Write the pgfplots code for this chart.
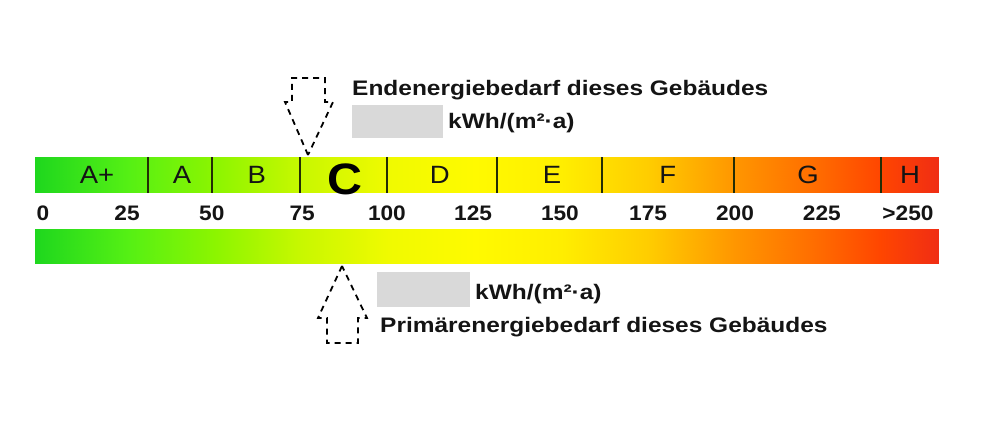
\documentclass[border=0pt]{standalone}
\usepackage{pgfplots}
\pgfplotsset{compat=1.18}
\usepackage{fontspec}
\setmainfont{Liberation Sans}
\usepackage{graphicx}
\definecolor{txt}{RGB}{20,20,20}
\definecolor{boxgray}{RGB}{217,217,217}
\definecolor{divline}{RGB}{35,45,5}
\newcommand{\bigtxt}[1]{\fontsize{21}{21}\selectfont\bfseries\scalebox{1.165}[1]{#1}}
\newcommand{\tk}[1]{\fontsize{21}{21}\selectfont\bfseries\scalebox{1.08}[1]{#1}}
\newcommand{\cl}[1]{\fontsize{25}{25}\selectfont\scalebox{1.1}[1]{#1}}
\begin{document}
\begin{tikzpicture}
\begin{axis}[
  width=1004pt, height=438pt, scale only axis,
  xmin=-12.428, xmax=277.75, ymin=0, ymax=438, y dir=reverse,
  hide axis, clip=false,
  colormap={energy}{rgb255(0)=(30,215,30) rgb255(27)=(85,240,20) rgb255(52)=(140,245,0) rgb255(77)=(200,248,0) rgb255(102)=(240,250,0) rgb255(127)=(255,250,0) rgb255(152)=(255,238,0) rgb255(177)=(255,205,0) rgb255(202)=(255,150,0) rgb255(227)=(255,105,0) rgb255(244)=(255,70,0) rgb255(261)=(240,45,20)},
  point meta min=-2.31, point meta max=258.96,
]
\path (rel axis cs:0,0) rectangle (rel axis cs:1,1);
% top bar (classes)
\addplot[surf, shader=interp, point meta=x, mesh/rows=2, mesh/cols=12] table {
x y
-2.31 157
25 157
50 157
75 157
100 157
125 157
150 157
175 157
200 157
225 157
242 157
258.96 157
-2.31 193
25 193
50 193
75 193
100 193
125 193
150 193
175 193
200 193
225 193
242 193
258.96 193
};
% bottom bar
\addplot[surf, shader=interp, point meta=x, mesh/rows=2, mesh/cols=12] table {
x y
-2.31 229
25 229
50 229
75 229
100 229
125 229
150 229
175 229
200 229
225 229
242 229
258.96 229
-2.31 263
25 263
50 263
75 263
100 263
125 263
150 263
175 263
200 263
225 263
242 263
258.96 263
};
% class dividers
\addplot[divline, line width=1.7pt, unbounded coords=jump] coordinates {
(30.3,157.5) (30.3,192.5) (nan,nan)
(48.8,157.5) (48.8,192.5) (nan,nan)
(74.3,157.5) (74.3,192.5) (nan,nan)
(99.4,157.5) (99.4,192.5) (nan,nan)
(131.2,157.5) (131.2,192.5) (nan,nan)
(161.6,157.5) (161.6,192.5) (nan,nan)
(199.7,157.5) (199.7,192.5) (nan,nan)
(242.2,157.5) (242.2,192.5)
};
% class letters
\node[anchor=base, txt] at (axis cs:15.6,183) {\cl{A+}};
\node[anchor=base, txt] at (axis cs:40.2,183) {\cl{A}};
\node[anchor=base, txt] at (axis cs:61.8,183) {\cl{B}};
\node[anchor=base, black] at (axis cs:87.3,194) {\fontsize{44}{44}\selectfont\bfseries\scalebox{1.1}[1]{C}};
\node[anchor=base, txt] at (axis cs:114.7,183) {\cl{D}};
\node[anchor=base, txt] at (axis cs:147.1,183) {\cl{E}};
\node[anchor=base, txt] at (axis cs:180.6,183) {\cl{F}};
\node[anchor=base, txt] at (axis cs:221.1,183) {\cl{G}};
\node[anchor=base, txt] at (axis cs:250.6,183) {\cl{H}};
% scale numbers
\node[anchor=base, txt] at (axis cs:0,220) {\tk{0}};
\node[anchor=base, txt] at (axis cs:24.3,220) {\tk{25}};
\node[anchor=base, txt] at (axis cs:48.8,220) {\tk{50}};
\node[anchor=base, txt] at (axis cs:74.9,220) {\tk{75}};
\node[anchor=base, txt] at (axis cs:99.4,220) {\tk{100}};
\node[anchor=base, txt] at (axis cs:124.3,220) {\tk{125}};
\node[anchor=base, txt] at (axis cs:149.4,220) {\tk{150}};
\node[anchor=base, txt] at (axis cs:174.9,220) {\tk{175}};
\node[anchor=base, txt] at (axis cs:200,220) {\tk{200}};
\node[anchor=base, txt] at (axis cs:225.1,220) {\tk{225}};
\node[anchor=base, txt] at (axis cs:250,220) {\tk{>250}};
% top arrow (Endenergie)
\addplot[black, line width=1.8pt, dash pattern=on 6pt off 5pt] coordinates {
(76.59,155) (69.94,102) (71.97,102) (71.97,78) (81.5,78) (81.5,102) (83.82,102) (76.59,155)
};
% bottom arrow (Primaerenergie)
\addplot[black, line width=1.8pt, dash pattern=on 6pt off 5pt] coordinates {
(86.42,266) (79.48,318) (82.08,318) (82.08,343) (91.04,343) (91.04,318) (93.64,318) (86.42,266)
};
% texts and grey boxes
\fill[boxgray] (axis cs:89.31,105) rectangle (axis cs:115.61,138);
\node[anchor=base west, txt, inner sep=0pt] at (axis cs:89.31,95.5) {\bigtxt{Endenergiebedarf dieses Gebäudes}};
\node[anchor=base west, txt, inner sep=0pt] at (axis cs:117.05,129) {\bigtxt{kWh/(m²·a)}};
\fill[boxgray] (axis cs:96.53,272) rectangle (axis cs:123.41,307);
\node[anchor=base west, txt, inner sep=0pt] at (axis cs:124.86,299) {\bigtxt{kWh/(m²·a)}};
\node[anchor=base west, txt, inner sep=0pt] at (axis cs:97.4,332) {\bigtxt{Primärenergiebedarf dieses Gebäudes}};
\end{axis}
\end{tikzpicture}
\end{document}
